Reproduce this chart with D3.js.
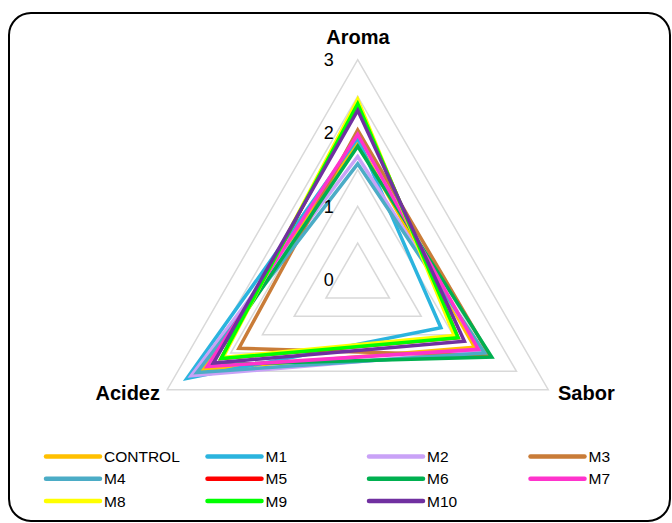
<!DOCTYPE html>
<html>
<head>
<meta charset="utf-8">
<script src="https://cdn.jsdelivr.net/npm/d3@7"></script>
<style>
  html, body { margin: 0; padding: 0; background: #fff; }
  svg { display: block; font-family: "Liberation Sans", Arial, sans-serif; }
</style>
</head>
<body>
<svg id="chart" width="672" height="523"></svg>
<script>
// Radar axes and sensory scores (Aroma, Sabor, Acidez)
const axes = ["Aroma", "Sabor", "Acidez"];
const seriesNames = ["CONTROL", "M1", "M2", "M3", "M4", "M5", "M6", "M7", "M8", "M9", "M10"];
const seriesColors = ["#FFC000", "#2BB4DE", "#C9A2F7", "#C97C38", "#4BACC6", "#FF0000",
                      "#00B050", "#FF33CC", "#FFFF00", "#00FF00", "#7030A0"];
const CONTROL = [1.88, 1.84, 2.45];
const M1  = [1.93, 1.31, 2.69];
const M2  = [1.68, 1.95, 2.62];
const M3  = [2.04, 2.08, 1.87];
const M4  = [1.58, 2.00, 2.53];
const M5  = [2.40, 1.58, 2.15];
const M6  = [1.82, 2.11, 2.32];
const M7  = [1.98, 1.90, 2.37];
const M8  = [2.46, 1.52, 2.12];
const M9  = [2.40, 1.58, 2.15];
const M10 = [2.31, 1.68, 2.27];
const seriesValues = [CONTROL, M1, M2, M3, M4, M5, M6, M7, M8, M9, M10];
const tickLabels = [0, 1, 2, 3];
const gridLevels = [0.5, 1, 1.5, 2, 2.5, 3];

const svg = d3.select("#chart");
const cx = 357.7, cy = 279.7;
const r = d3.scaleLinear().domain([0, 3]).range([0, 220]);
// three axes spaced 120 degrees apart, first pointing up
const ang = i => (-90 + i * 120) * Math.PI / 180;
const pt = (v, i) => [cx + r(v) * Math.cos(ang(i)), cy + r(v) * Math.sin(ang(i))];

// chart frame
svg.append("rect")
  .attr("x", 9).attr("y", 13).attr("width", 661).attr("height", 508)
  .attr("rx", 22).attr("ry", 22)
  .attr("fill", "#fff").attr("stroke", "#000").attr("stroke-width", 2);

// grid triangles
const line = d3.line().curve(d3.curveLinearClosed);
svg.append("g").selectAll("path").data(gridLevels).join("path")
  .attr("d", lv => line(axes.map((a, i) => pt(lv, i))))
  .attr("fill", "none").attr("stroke", "#D9D9D9").attr("stroke-width", 1.5);

// series polygons
svg.append("g").selectAll("path").data(seriesValues).join("path")
  .attr("d", vals => line(vals.map((v, i) => pt(v, i))))
  .attr("fill", "none")
  .attr("stroke", (d, i) => seriesColors[i])
  .attr("stroke-width", 3.5)
  .attr("stroke-linejoin", "miter");

// value labels along the Aroma axis
svg.append("g").selectAll("text").data(tickLabels).join("text")
  .attr("x", cx - 24).attr("y", d => cy - r(d))
  .attr("dy", "0.35em")
  .attr("text-anchor", "end")
  .attr("font-size", 18)
  .attr("fill", "#000")
  .text(d => d);

// axis titles
const axisTitle = [
  { x: 358, y: 44, anchor: "middle" },
  { x: 558, y: 400, anchor: "start" },
  { x: 160, y: 400, anchor: "end" }
];
svg.append("g").selectAll("text").data(axes).join("text")
  .attr("x", (d, i) => axisTitle[i].x)
  .attr("y", (d, i) => axisTitle[i].y)
  .attr("text-anchor", (d, i) => axisTitle[i].anchor)
  .attr("font-size", 20).attr("font-weight", "bold")
  .attr("fill", "#000")
  .text(d => d);

// legend: 4 columns x 3 rows
const legendX = d3.scaleLinear().domain([0, 1]).range([46, 207.5]);
const legendY = d3.scaleLinear().domain([0, 1]).range([456.5, 478.8]);
const leg = svg.append("g").selectAll("g").data(seriesNames).join("g")
  .attr("transform", (d, i) => `translate(${legendX(i % 4)},${legendY(Math.floor(i / 4))})`);
leg.append("line")
  .attr("x1", 0).attr("x2", 54).attr("y1", 0).attr("y2", 0)
  .attr("stroke", (d, i) => seriesColors[i])
  .attr("stroke-width", 4.5).attr("stroke-linecap", "round");
leg.append("text")
  .attr("x", 58).attr("y", 0).attr("dy", "0.35em")
  .attr("font-size", 15.5).attr("fill", "#000")
  .text(d => d);
</script>
</body>
</html>
